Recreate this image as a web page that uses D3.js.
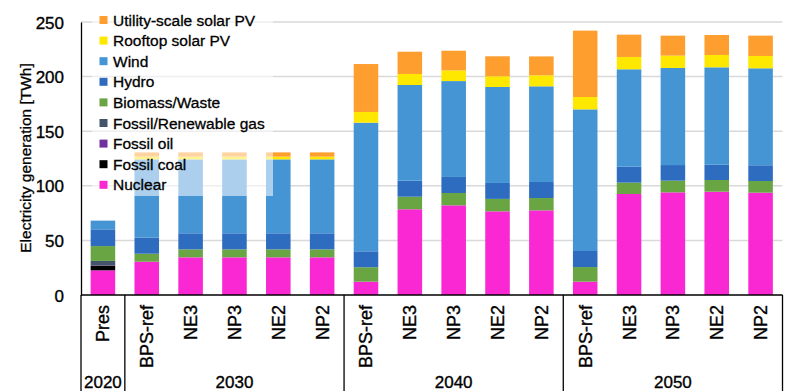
<!DOCTYPE html>
<html><head><meta charset="utf-8">
<script src="https://cdn.jsdelivr.net/npm/d3@7/dist/d3.min.js"></script>
<style>
html,body{margin:0;padding:0;background:#fff;}
svg{display:block;}
.narrow{font-family:'Liberation Sans Narrow','Arial Narrow','Liberation Sans',Arial,sans-serif;stroke:#000;stroke-width:0.35px;}
.reg{font-family:'Liberation Sans',Arial,sans-serif;stroke:#000;stroke-width:0.3px;}
</style></head>
<body>
<svg id="chart" width="800" height="391"></svg>
<script>
const categories = ["Pres","BPS-ref","NE3","NP3","NE2","NP2","BPS-ref","NE3","NP3","NE2","NP2","BPS-ref","NE3","NP3","NE2","NP2"];
const years = ["2020","2030","2040","2050"];
const yearSizes = [1,5,5,5];
const yTicks = [0,50,100,150,200,250];

const nuclear  = [22.6,30.5,34.5,34.5,34.5,34.5,12.2,78.5,82.1,76.6,77.5,12.2,92.5,94.0,94.6,93.7];
const fossilCoal=[4.3,0,0,0,0,0,0,0,0,0,0,0,0,0,0,0];
const fossilOil= [0.3,0,0,0,0,0,0,0,0,0,0,0,0,0,0,0];
const fossilGas= [4.0,0,0,0,0,0,0,0,0,0,0,0,0,0,0,0];
const biomass  = [13.6,7.3,7.3,7.3,7.3,7.3,13.2,11.5,11.3,11.4,11.3,13.4,10.4,10.7,10.7,10.7];
const hydro    = [15.3,14.7,14.7,14.7,14.7,14.7,14.6,14.7,14.7,14.6,14.7,14.7,14.6,14.3,14.0,14.4];
const wind     = [8.0,71.7,67.7,67.7,67.7,67.7,117.8,87.6,87.8,87.9,87.6,129.7,89.2,88.9,89.2,88.8];
const rooftop  = [0,2.5,2.5,2.5,2.5,2.5,9.8,10.1,9.8,9.8,10.1,11.3,11.3,11.3,11.3,11.3];
const utility  = [0,3.9,3.9,3.9,3.9,3.9,43.9,20.4,18.0,18.3,17.3,60.8,20.4,18.3,18.3,18.6];

const seriesNames = ["Nuclear","Fossil coal","Fossil oil","Fossil/Renewable gas","Biomass/Waste","Hydro","Wind","Rooftop solar PV","Utility-scale solar PV"];
const seriesValues = [nuclear,fossilCoal,fossilOil,fossilGas,biomass,hydro,wind,rooftop,utility];
const colors = ["#F928D3","#000000","#7030A0","#44546A","#6AA544","#2E6CC0","#4595D5","#FFE800","#FD9E2E"];

(function(){
const svg = d3.select("#chart");
const pL = 81, pR = 782.5, pT = 22, pB = 295;

const x = d3.scaleBand().domain(categories.map((c,i)=>i)).range([pL,pR]).paddingInner(0.44).paddingOuter(0.22);
const y = d3.scaleLinear().domain([0,250]).range([pB,pT]);

// gridlines
svg.append("g").selectAll("line").data(yTicks.filter(t=>t>0)).join("line")
  .attr("x1",pL).attr("x2",pR).attr("y1",d=>y(d)).attr("y2",d=>y(d))
  .attr("stroke","#D9D9D9").attr("stroke-width",1.5);

// stacked data
const rows = categories.map((c,i)=>{const o={i}; seriesNames.forEach((s,k)=>o[s]=seriesValues[k][i]); return o;});
const stack = d3.stack().keys(seriesNames)(rows);

svg.append("g").selectAll("g").data(stack).join("g")
  .attr("fill",(d,k)=>colors[k])
  .selectAll("rect").data(d=>d).join("rect")
  .attr("x",d=>x(d.data.i)).attr("width",x.bandwidth())
  .attr("y",d=>y(d[1])).attr("height",d=>Math.max(0,y(d[0])-y(d[1])));

// legend (semi-transparent box)
svg.append("rect").attr("x",92).attr("y",8).attr("width",181).attr("height",188)
  .attr("fill","#fff").attr("fill-opacity",0.55);
const legendOrder = seriesNames.map((s,k)=>k).reverse();
const lg = svg.append("g");
legendOrder.forEach((k,j)=>{
  const cy = 20 + j*20.6;
  lg.append("rect").attr("x",99.5).attr("y",cy-4).attr("width",8).attr("height",8).attr("fill",colors[k]);
  lg.append("text").attr("class","reg").attr("x",113).attr("y",cy+5.5)
    .attr("font-size",15.5).attr("fill","#000").text(seriesNames[k]);
});

// y axis
const yAxis = svg.append("g").attr("transform",`translate(${pL},0)`)
  .call(d3.axisLeft(y).tickValues(yTicks).tickSize(0).tickPadding(0));
yAxis.select(".domain").attr("stroke","#000").attr("stroke-width",1.3);
yAxis.selectAll("text").attr("class","narrow").attr("font-size",17).attr("fill","#000")
  .attr("x",-17).attr("dy","0.36em");

svg.append("text").attr("class","reg").attr("font-size",15.5)
  .attr("transform",`translate(31,158) rotate(-90)`).attr("text-anchor","middle").text("Electricity generation [TWh]");

// x axis line
svg.append("line").attr("x1",pL).attr("x2",pR).attr("y1",pB).attr("y2",pB).attr("stroke","#000").attr("stroke-width",1.3);

// category labels
svg.append("g").selectAll("text").data(categories).join("text").attr("class","narrow")
  .attr("font-size",18).attr("text-anchor","end")
  .attr("transform",(d,i)=>`translate(${x(i)+x.bandwidth()/2+6.5},305) rotate(-90)`).text(d=>d);

// group separators and year labels
let idx = 0;
const bounds=[0];
yearSizes.forEach(n=>{idx+=n; bounds.push(idx);});
const bx = d=>pL + (pR-pL)*d/categories.length;
svg.append("g").selectAll("line").data(bounds).join("line")
  .attr("x1",bx).attr("x2",bx)
  .attr("y1",pB).attr("y2",391).attr("stroke","#000").attr("stroke-width",1.3);
svg.append("g").selectAll("text").data(years).join("text").attr("class","narrow")
  .attr("font-size",17).attr("text-anchor","middle")
  .attr("x",(d,k)=>(bx(bounds[k])+bx(bounds[k+1]))/2)
  .attr("y",388).text(d=>d);
})();
</script>
</body></html>
